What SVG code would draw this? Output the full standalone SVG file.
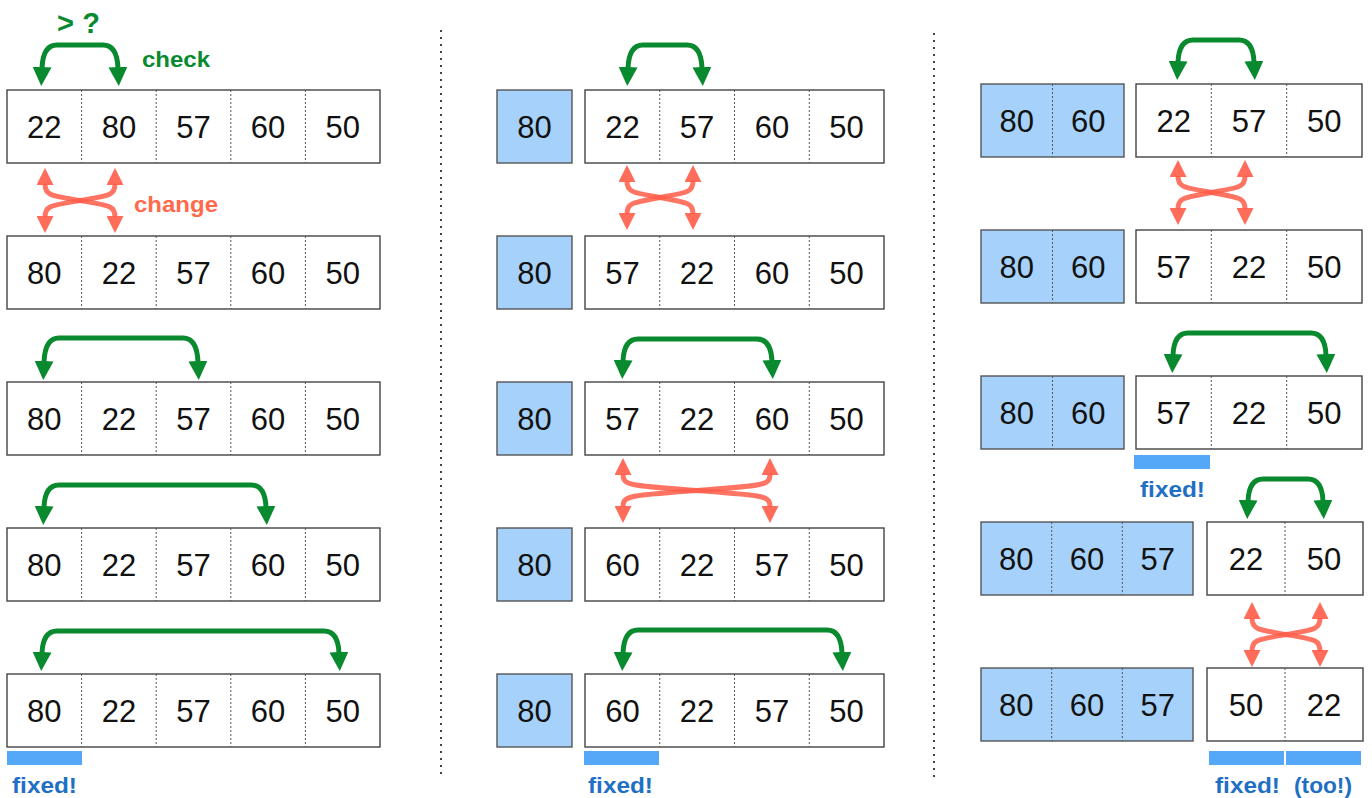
<svg xmlns="http://www.w3.org/2000/svg" width="1372" height="798" viewBox="0 0 1372 798">
<style>
.box{fill:#fff;stroke:#444;stroke-width:1.4}
.fix{fill:#a6d1fa;stroke:#555;stroke-width:1.4}
.dv{stroke:#555;stroke-width:1;stroke-dasharray:2 2}
.num{font-family:"Liberation Sans",Arial,sans-serif;font-size:31px;fill:#111;text-anchor:middle}
.g{fill:none;stroke:#0a8a2e;stroke-width:5}
.r{fill:none;stroke:#ff5c48;stroke-opacity:.85;stroke-width:5}
.bar{fill:#55a8f7}
.lbl{font-family:"Liberation Sans",Arial,sans-serif;font-weight:bold;font-size:22px}
.blue{fill:#1f6fc5}
.sep{stroke:#444;stroke-width:2;stroke-dasharray:2 5}
</style>
<defs>
<marker id="ga" viewBox="0 0 19 19" refX="1" refY="9.5" markerWidth="19" markerHeight="19" markerUnits="userSpaceOnUse" orient="auto-start-reverse"><path d="M0,0 L19,9.5 L0,19 z" fill="#0a8a2e"/></marker>
<marker id="ra" viewBox="0 0 17 17" refX="1" refY="8.5" markerWidth="17" markerHeight="17" markerUnits="userSpaceOnUse" orient="auto-start-reverse"><path d="M0,0 L17,8.5 L0,17 z" fill="#ff5c48" fill-opacity=".9"/></marker>
</defs>
<rect width="1372" height="798" fill="#fff"/>
<g id="separators">
<line class="sep" x1="441" y1="30" x2="441" y2="775"/>
<line class="sep" x1="934" y1="33" x2="934" y2="778"/>
</g>
<!-- Column 1 -->
<g id="c1r1"><rect class="box" x="7" y="90" width="373" height="73"/>
<line class="dv" x1="81.6" y1="90" x2="81.6" y2="163"/><line class="dv" x1="156.2" y1="90" x2="156.2" y2="163"/><line class="dv" x1="230.8" y1="90" x2="230.8" y2="163"/><line class="dv" x1="305.4" y1="90" x2="305.4" y2="163"/>
<text class="num" y="138"><tspan x="44.3">22</tspan><tspan x="118.9">80</tspan><tspan x="193.5">57</tspan><tspan x="268.1">60</tspan><tspan x="342.7">50</tspan></text></g>
<g id="c1r2"><rect class="box" x="7" y="236" width="373" height="73"/>
<line class="dv" x1="81.6" y1="236" x2="81.6" y2="309"/><line class="dv" x1="156.2" y1="236" x2="156.2" y2="309"/><line class="dv" x1="230.8" y1="236" x2="230.8" y2="309"/><line class="dv" x1="305.4" y1="236" x2="305.4" y2="309"/>
<text class="num" y="284"><tspan x="44.3">80</tspan><tspan x="118.9">22</tspan><tspan x="193.5">57</tspan><tspan x="268.1">60</tspan><tspan x="342.7">50</tspan></text></g>
<g id="c1r3"><rect class="box" x="7" y="382" width="373" height="73"/>
<line class="dv" x1="81.6" y1="382" x2="81.6" y2="455"/><line class="dv" x1="156.2" y1="382" x2="156.2" y2="455"/><line class="dv" x1="230.8" y1="382" x2="230.8" y2="455"/><line class="dv" x1="305.4" y1="382" x2="305.4" y2="455"/>
<text class="num" y="430"><tspan x="44.3">80</tspan><tspan x="118.9">22</tspan><tspan x="193.5">57</tspan><tspan x="268.1">60</tspan><tspan x="342.7">50</tspan></text></g>
<g id="c1r4"><rect class="box" x="7" y="528" width="373" height="73"/>
<line class="dv" x1="81.6" y1="528" x2="81.6" y2="601"/><line class="dv" x1="156.2" y1="528" x2="156.2" y2="601"/><line class="dv" x1="230.8" y1="528" x2="230.8" y2="601"/><line class="dv" x1="305.4" y1="528" x2="305.4" y2="601"/>
<text class="num" y="576"><tspan x="44.3">80</tspan><tspan x="118.9">22</tspan><tspan x="193.5">57</tspan><tspan x="268.1">60</tspan><tspan x="342.7">50</tspan></text></g>
<g id="c1r5"><rect class="box" x="7" y="674" width="373" height="73"/>
<line class="dv" x1="81.6" y1="674" x2="81.6" y2="747"/><line class="dv" x1="156.2" y1="674" x2="156.2" y2="747"/><line class="dv" x1="230.8" y1="674" x2="230.8" y2="747"/><line class="dv" x1="305.4" y1="674" x2="305.4" y2="747"/>
<text class="num" y="722"><tspan x="44.3">80</tspan><tspan x="118.9">22</tspan><tspan x="193.5">57</tspan><tspan x="268.1">60</tspan><tspan x="342.7">50</tspan></text></g>
<g id="c1fixed"><rect class="bar" x="7" y="751" width="75" height="14"/><text class="lbl blue" x="12" y="793" textLength="65" lengthAdjust="spacingAndGlyphs">fixed!</text></g>
<g id="c1labels">
<text class="lbl" x="57" y="33" fill="#0a8a2e" style="font-size:29px" textLength="43" lengthAdjust="spacing">&gt; ?</text>
<text class="lbl" x="142" y="67" fill="#0a8a2e" textLength="68" lengthAdjust="spacingAndGlyphs">check</text>
<text class="lbl" x="134" y="212" fill="#ff6a4d" textLength="84" lengthAdjust="spacingAndGlyphs">change</text>
</g>
<!-- Column 2 -->
<g id="c2r1"><rect class="fix" x="497" y="90" width="75" height="73"/><rect class="box" x="585" y="90" width="299" height="73"/>
<line class="dv" x1="659.75" y1="90" x2="659.75" y2="163"/><line class="dv" x1="734.5" y1="90" x2="734.5" y2="163"/><line class="dv" x1="809.25" y1="90" x2="809.25" y2="163"/>
<text class="num" y="138"><tspan x="534.5">80</tspan><tspan x="622.4">22</tspan><tspan x="697.1">57</tspan><tspan x="771.9">60</tspan><tspan x="846.6">50</tspan></text></g>
<g id="c2r2"><rect class="fix" x="497" y="236" width="75" height="73"/><rect class="box" x="585" y="236" width="299" height="73"/>
<line class="dv" x1="659.75" y1="236" x2="659.75" y2="309"/><line class="dv" x1="734.5" y1="236" x2="734.5" y2="309"/><line class="dv" x1="809.25" y1="236" x2="809.25" y2="309"/>
<text class="num" y="284"><tspan x="534.5">80</tspan><tspan x="622.4">57</tspan><tspan x="697.1">22</tspan><tspan x="771.9">60</tspan><tspan x="846.6">50</tspan></text></g>
<g id="c2r3"><rect class="fix" x="497" y="382" width="75" height="73"/><rect class="box" x="585" y="382" width="299" height="73"/>
<line class="dv" x1="659.75" y1="382" x2="659.75" y2="455"/><line class="dv" x1="734.5" y1="382" x2="734.5" y2="455"/><line class="dv" x1="809.25" y1="382" x2="809.25" y2="455"/>
<text class="num" y="430"><tspan x="534.5">80</tspan><tspan x="622.4">57</tspan><tspan x="697.1">22</tspan><tspan x="771.9">60</tspan><tspan x="846.6">50</tspan></text></g>
<g id="c2r4"><rect class="fix" x="497" y="528" width="75" height="73"/><rect class="box" x="585" y="528" width="299" height="73"/>
<line class="dv" x1="659.75" y1="528" x2="659.75" y2="601"/><line class="dv" x1="734.5" y1="528" x2="734.5" y2="601"/><line class="dv" x1="809.25" y1="528" x2="809.25" y2="601"/>
<text class="num" y="576"><tspan x="534.5">80</tspan><tspan x="622.4">60</tspan><tspan x="697.1">22</tspan><tspan x="771.9">57</tspan><tspan x="846.6">50</tspan></text></g>
<g id="c2r5"><rect class="fix" x="497" y="674" width="75" height="73"/><rect class="box" x="585" y="674" width="299" height="73"/>
<line class="dv" x1="659.75" y1="674" x2="659.75" y2="747"/><line class="dv" x1="734.5" y1="674" x2="734.5" y2="747"/><line class="dv" x1="809.25" y1="674" x2="809.25" y2="747"/>
<text class="num" y="722"><tspan x="534.5">80</tspan><tspan x="622.4">60</tspan><tspan x="697.1">22</tspan><tspan x="771.9">57</tspan><tspan x="846.6">50</tspan></text></g>
<g id="c2fixed"><rect class="bar" x="584" y="751" width="75" height="14"/><text class="lbl blue" x="588" y="793" textLength="65" lengthAdjust="spacingAndGlyphs">fixed!</text></g>
<!-- Column 3 -->
<g id="c3r1"><rect class="fix" x="981" y="84" width="143" height="73"/><line class="dv" x1="1052.5" y1="84" x2="1052.5" y2="157"/>
<rect class="box" x="1136" y="84" width="226" height="73"/><line class="dv" x1="1211.3" y1="84" x2="1211.3" y2="157"/><line class="dv" x1="1286.7" y1="84" x2="1286.7" y2="157"/>
<text class="num" y="132"><tspan x="1016.8">80</tspan><tspan x="1088.3">60</tspan><tspan x="1173.7">22</tspan><tspan x="1249">57</tspan><tspan x="1324.3">50</tspan></text></g>
<g id="c3r2"><rect class="fix" x="981" y="230" width="143" height="73"/><line class="dv" x1="1052.5" y1="230" x2="1052.5" y2="303"/>
<rect class="box" x="1136" y="230" width="226" height="73"/><line class="dv" x1="1211.3" y1="230" x2="1211.3" y2="303"/><line class="dv" x1="1286.7" y1="230" x2="1286.7" y2="303"/>
<text class="num" y="278"><tspan x="1016.8">80</tspan><tspan x="1088.3">60</tspan><tspan x="1173.7">57</tspan><tspan x="1249">22</tspan><tspan x="1324.3">50</tspan></text></g>
<g id="c3r3"><rect class="fix" x="981" y="376" width="143" height="73"/><line class="dv" x1="1052.5" y1="376" x2="1052.5" y2="449"/>
<rect class="box" x="1136" y="376" width="226" height="73"/><line class="dv" x1="1211.3" y1="376" x2="1211.3" y2="449"/><line class="dv" x1="1286.7" y1="376" x2="1286.7" y2="449"/>
<text class="num" y="424"><tspan x="1016.8">80</tspan><tspan x="1088.3">60</tspan><tspan x="1173.7">57</tspan><tspan x="1249">22</tspan><tspan x="1324.3">50</tspan></text></g>
<g id="c3fixed1"><rect class="bar" x="1134" y="455" width="76" height="14"/><text class="lbl blue" x="1140" y="497" textLength="65" lengthAdjust="spacingAndGlyphs">fixed!</text></g>
<g id="c3r4"><rect class="fix" x="981" y="522" width="212" height="73"/><line class="dv" x1="1051.7" y1="522" x2="1051.7" y2="595"/><line class="dv" x1="1122.3" y1="522" x2="1122.3" y2="595"/>
<rect class="box" x="1207" y="522" width="156" height="73"/><line class="dv" x1="1285" y1="522" x2="1285" y2="595"/>
<text class="num" y="570"><tspan x="1016.3">80</tspan><tspan x="1087">60</tspan><tspan x="1157.7">57</tspan><tspan x="1246">22</tspan><tspan x="1324">50</tspan></text></g>
<g id="c3r5"><rect class="fix" x="981" y="668" width="212" height="73"/><line class="dv" x1="1051.7" y1="668" x2="1051.7" y2="741"/><line class="dv" x1="1122.3" y1="668" x2="1122.3" y2="741"/>
<rect class="box" x="1207" y="668" width="156" height="73"/><line class="dv" x1="1285" y1="668" x2="1285" y2="741"/>
<text class="num" y="716"><tspan x="1016.3">80</tspan><tspan x="1087">60</tspan><tspan x="1157.7">57</tspan><tspan x="1246">50</tspan><tspan x="1324">22</tspan></text></g>
<g id="c3fixed2"><rect class="bar" x="1209" y="751" width="75" height="14"/><rect class="bar" x="1286" y="751" width="75" height="14"/>
<text class="lbl blue" x="1215" y="793" textLength="65" lengthAdjust="spacingAndGlyphs">fixed!</text>
<text class="lbl blue" x="1294" y="793" textLength="58" lengthAdjust="spacingAndGlyphs">(too!)</text></g>
<!-- Connectors -->
<g id="connectors">
<g marker-start="url(#ga)" marker-end="url(#ga)">
<path class="g" d="M42,68 Q43,45 57,45 L103,45 Q117,45 118,68"/>
<path class="g" d="M44,362 Q45,338 59,338 L183,338 Q197,338 198,362"/>
<path class="g" d="M44,507 Q45,485 59,485 L251,485 Q265,485 266,507"/>
<path class="g" d="M42,653 Q43,631 57,631 L324,631 Q338,631 339,653"/>
<path class="g" d="M628,68 Q629,45 643,45 L687,45 Q701,45 702,68"/>
<path class="g" d="M623,361 Q624,339 638,339 L757,339 Q771,339 772,361"/>
<path class="g" d="M623,653 Q624,630 638,630 L827,630 Q841,630 842,653"/>
<path class="g" d="M1178,62 Q1179,40 1193,40 L1239,40 Q1253,40 1254,62"/>
<path class="g" d="M1173,355 Q1174,333 1188,333 L1311,333 Q1325,333 1326,355"/>
<path class="g" d="M1248,501 Q1249,479 1263,479 L1308,479 Q1322,479 1323,501"/>
</g>
<g marker-start="url(#ra)" marker-end="url(#ra)">
<path class="r" d="M45,184 C45,195.5 51,195.5 80,200.5 C109,205.5 115,205.5 115,217"/>
<path class="r" d="M115,184 C115,195.5 109,195.5 80,200.5 C51,205.5 45,205.5 45,217"/>
<path class="r" d="M627,181 C627,192.5 633,192.5 660,197.5 C687,202.5 693,202.5 693,214"/>
<path class="r" d="M693,181 C693,192.5 687,192.5 660,197.5 C633,202.5 627,202.5 627,214"/>
<path class="r" d="M623,474 C623,485.5 629,485.5 696.5,490.5 C764,495.5 770,495.5 770,507"/>
<path class="r" d="M770,474 C770,485.5 764,485.5 696.5,490.5 C629,495.5 623,495.5 623,507"/>
<path class="r" d="M1178,176 C1178,187.5 1184,187.5 1211.5,192.5 C1239,197.5 1245,197.5 1245,209"/>
<path class="r" d="M1245,176 C1245,187.5 1239,187.5 1211.5,192.5 C1184,197.5 1178,197.5 1178,209"/>
<path class="r" d="M1252,618 C1252,629.5 1258,629.5 1286,634.5 C1314,639.5 1320,639.5 1320,651"/>
<path class="r" d="M1320,618 C1320,629.5 1314,629.5 1286,634.5 C1258,639.5 1252,639.5 1252,651"/>
</g>
</g>
</svg>
